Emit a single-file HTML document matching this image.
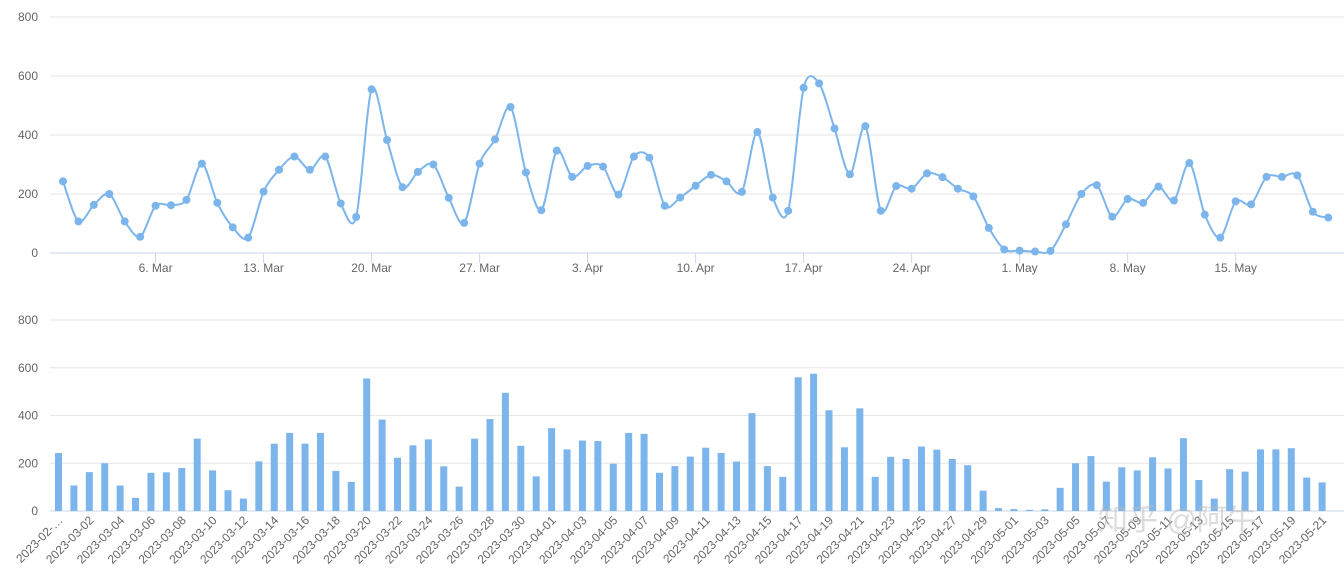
<!DOCTYPE html>
<html><head><meta charset="utf-8">
<style>
html,body{margin:0;padding:0;background:#fff;}
svg{display:block;font-family:"Liberation Sans","Noto Sans CJK SC",sans-serif;}
</style></head>
<body>
<svg id="chart" width="1344" height="579" viewBox="0 0 1344 579">
<g id="topChart"></g>
<g id="botChart"></g>
<text x="1098" y="530" font-size="30" fill="#bbb" opacity="0.5">知乎 @阿牛</text>
</svg>
<script>
const values=[243,107,163,200,107,55,160,162,180,303,170,87,52,208,282,327,282,327,168,122,555,383,223,275,300,187,102,303,385,495,273,145,347,258,295,293,198,327,323,160,188,228,265,243,207,410,188,143,560,575,422,267,430,143,227,218,270,257,218,192,85,12,8,5,7,97,200,230,123,183,170,225,178,305,130,52,175,165,258,258,263,140,120];
const yTicks=[0,200,400,600,800];
const topXLabels=["6. Mar","13. Mar","20. Mar","27. Mar","3. Apr","10. Apr","17. Apr","24. Apr","1. May","8. May","15. May"];
const startDate=new Date(Date.UTC(2023,1,28));
const NS="http://www.w3.org/2000/svg";
function mk(tag,attrs,parent){const e=document.createElementNS(NS,tag);for(const k in attrs)e.setAttribute(k,attrs[k]);parent.appendChild(e);return e;}
const gTop=document.getElementById('topChart'),gBot=document.getElementById('botChart');
const tx=i=>63+15.43*i;
const ty=v=>253-v*236/800;
yTicks.forEach(t=>{
 const g=mk('line',{x1:50,x2:1344,y1:ty(t),y2:ty(t),stroke:t===0?'#ccd6eb':'#e6e6e6','stroke-width':1},gTop);
 
 
 const l=mk('text',{x:38,y:ty(t)+4,'text-anchor':'end','font-size':12,fill:'#666'},gTop);
 l.textContent=t;
 
 
});
topXLabels.forEach((s,k)=>{
 const i=6+7*k;
 const tk=mk('line',{x1:tx(i),x2:tx(i),y1:253,y2:263,stroke:'#ccd6eb'},gTop);
 
 
 const l=mk('text',{x:tx(i),y:272,'text-anchor':'middle','font-size':12,fill:'#666'},gTop);
 l.textContent=s;
 
 
});
const pts=values.map((v,i)=>[tx(i),ty(v)]);
let d='M'+pts[0][0]+','+pts[0][1];
for(let i=0;i<pts.length-1;i++){
 const p0=pts[Math.max(0,i-1)],p1=pts[i],p2=pts[i+1],p3=pts[Math.min(pts.length-1,i+2)];
 const s=0.15;
 const c1=[p1[0]+(p2[0]-p0[0])*s,p1[1]+(p2[1]-p0[1])*s];
 const c2=[p2[0]-(p3[0]-p1[0])*s,p2[1]-(p3[1]-p1[1])*s];
 d+=` C${c1[0]},${c1[1]} ${c2[0]},${c2[1]} ${p2[0]},${p2[1]}`;
}
const path=mk('path',{d:d,fill:'none',stroke:'#7cb5ec','stroke-width':2},gTop);


pts.forEach(p=>{
 const c=mk('circle',{cx:p[0],cy:p[1],r:4,fill:'#7cb5ec'},gTop);
 
 
});
const bx=i=>58.5+15.41*i;
const by=v=>511-v*191/800;
yTicks.forEach(t=>{
 const g=mk('line',{x1:50,x2:1344,y1:by(t),y2:by(t),stroke:t===0?'#ccd6eb':'#e6e6e6','stroke-width':1},gBot);
 
 
 const l=mk('text',{x:38,y:by(t)+4,'text-anchor':'end','font-size':12,fill:'#666'},gBot);
 l.textContent=t;
 
 
});
values.forEach((v,i)=>{
 const r=mk('rect',{x:bx(i)-3.5,y:by(v),width:7,height:Math.max(0,511-by(v)),fill:'#7cb5ec'},gBot);
 
 
 if(i%2===0){
  const dt=new Date(startDate.getTime()+i*86400000);
  let s=dt.toISOString().slice(0,10);
  if(i===0)s='2023-02-…';
  const l=mk('text',{x:0,y:0,'text-anchor':'end','font-size':12,fill:'#666',transform:`translate(${bx(i)+5},${521}) rotate(-45)`},gBot);
  l.textContent=s;
  
  
 }
});
</script>
</body></html>
